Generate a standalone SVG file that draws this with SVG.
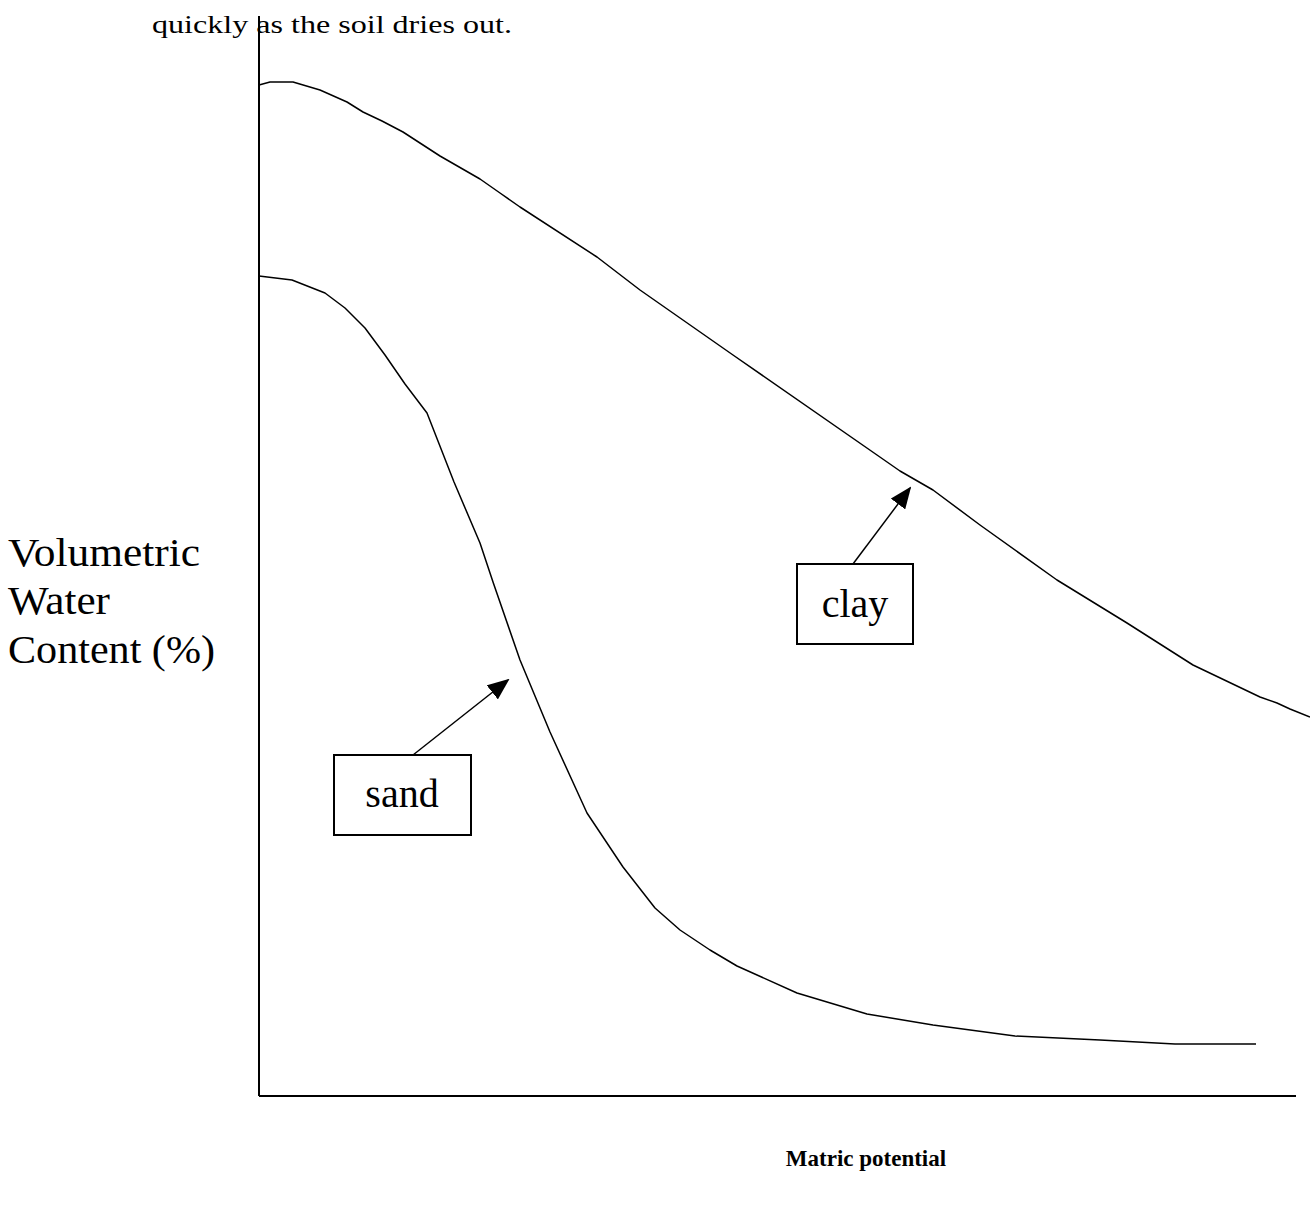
<svg xmlns="http://www.w3.org/2000/svg" width="1310" height="1210" viewBox="0 0 1310 1210">
<style>
.t{font-family:"Liberation Serif","Times New Roman",serif;fill:#000}
.curve{fill:none;stroke:#000;stroke-width:1.5;stroke-linejoin:round}
.axis{fill:none;stroke:#000;stroke-width:2}
.box{fill:#fff;stroke:#000;stroke-width:2}
.conn{fill:none;stroke:#000;stroke-width:1.5}
</style>
<defs>
<marker id="ah" markerWidth="22" markerHeight="18" refX="20" refY="9" orient="auto" markerUnits="userSpaceOnUse">
<path d="M0,0 L22,9 L0,18 Z" fill="#000"/>
</marker>
</defs>
<rect width="1310" height="1210" fill="#fff"/>
<text class="t" x="152" y="33" font-size="25" textLength="360" lengthAdjust="spacingAndGlyphs">quickly as the soil dries out.</text>
<g id="axes">
<line class="axis" x1="259" y1="16" x2="259" y2="1096"/>
<line class="axis" x1="259" y1="1096" x2="1296" y2="1096"/>
</g>
<g id="clay-curve">
<path class="curve" d="M259,85 L270,82 L293,82 L320,90 L347,102 L363,112 L382,121 L403,132 L440,156 L480,179 L500,193 L520,207 L597,257 L640,290 L733,355 L877,455 L900,471 L933,490 L980,525 L1057,580 L1127,623 L1193,665 L1260,697 L1277,703 L1290,709 L1310,717"/>
</g>
<g id="sand-curve">
<path class="curve" d="M259,276 L292,280 L325,293 L345,308 L365,328 L385,355 L405,384 L427,413 L454,482 L480,543 L493,582 L520,660 L550,732 L587,813 L623,867 L655,908 L680,930 L710,950 L737,966 L797,993 L867,1014 L933,1025 L1015,1036 L1100,1040 L1175,1044 L1256,1044"/>
</g>
<g id="y-label">
<text class="t" x="8" y="566" font-size="41" textLength="192" lengthAdjust="spacingAndGlyphs">Volumetric</text>
<text class="t" x="8" y="614" font-size="41" textLength="102" lengthAdjust="spacingAndGlyphs">Water</text>
<text class="t" x="8" y="663" font-size="41" textLength="207" lengthAdjust="spacingAndGlyphs">Content (%)</text>
</g>
<g id="x-label">
<text class="t" x="866" y="1166" font-size="23" font-weight="bold" text-anchor="middle">Matric potential</text>
</g>
<g id="connectors">
<line class="conn" x1="853" y1="564" x2="910" y2="488" marker-end="url(#ah)"/>
<line class="conn" x1="413" y1="755" x2="508" y2="680" marker-end="url(#ah)"/>
</g>
<g id="clay">
<rect class="box" x="797" y="564" width="116" height="80"/>
<text class="t" x="855" y="617" font-size="40" text-anchor="middle">clay</text>
</g>
<g id="sand">
<rect class="box" x="334" y="755" width="137" height="80"/>
<text class="t" x="402" y="807" font-size="40" text-anchor="middle">sand</text>
</g>
</svg>
